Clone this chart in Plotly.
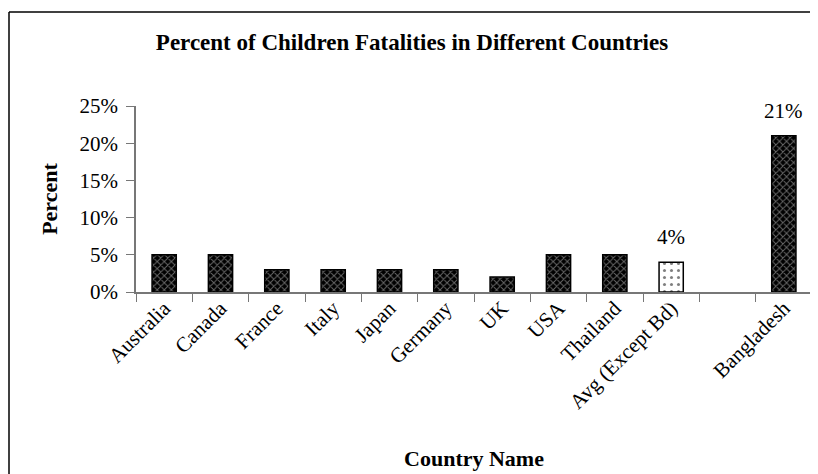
import plotly.graph_objects as go

categories = ["Australia", "Canada", "France", "Italy", "Japan", "Germany", "UK",
              "USA", "Thailand", "Avg (Except Bd)", " ", "Bangladesh"]
values = [5, 5, 3, 3, 3, 3, 2, 5, 5, 4, None, 21]
labels = ["", "", "", "", "", "", "", "", "", "4%", "", "21%"]
ytick_vals = [0, 5, 10, 15, 20, 25]
ytick_text = ["0%", "5%", "10%", "15%", "20%", "25%"]

FONT = "Liberation Serif"
OFF = 8  # page body offset
W, H = 818 - OFF, 474 - OFF

dark_idx = [i for i, c in enumerate(categories) if c != "Avg (Except Bd)"]
avg_idx = [categories.index("Avg (Except Bd)")]

fig = go.Figure()
fig.add_trace(go.Bar(
    x=[categories[i] for i in dark_idx],
    y=[values[i] for i in dark_idx],
    marker=dict(color="black", line=dict(color="black", width=1.5),
                pattern=dict(shape="x", fgcolor="#d0d0d0", bgcolor="black",
                             size=5, solidity=0.35)),
    width=0.43, showlegend=False, hoverinfo="skip",
))
fig.add_trace(go.Bar(
    x=[categories[i] for i in avg_idx],
    y=[values[i] for i in avg_idx],
    marker=dict(color="white", line=dict(color="black", width=1.5),
                pattern=dict(shape=".", fgcolor="black", bgcolor="white",
                             size=7, solidity=0.15)),
    width=0.43, showlegend=False, hoverinfo="skip",
))

for c, v, t in zip(categories, values, labels):
    if t:
        fig.add_annotation(x=c, y=v, text=t, showarrow=False, yanchor="bottom",
                           yshift=11, font=dict(family=FONT, size=21, color="black"))

# plot area in page pixels: x 136..812, y 106..292
L, R, T, B = 136, 812, 106, 292
px = lambda x: (x - L) / (R - L)
py = lambda y: (B - y) / (B - T)
# chart-area border (left and top edges visible; right/bottom cut off)
fig.add_shape(type="line", xref="paper", yref="paper",
              x0=px(9), x1=px(830), y0=py(12), y1=py(12),
              line=dict(color="black", width=1.5), layer="below")
fig.add_shape(type="line", xref="paper", yref="paper",
              x0=px(9), x1=px(9), y0=py(12), y1=py(490),
              line=dict(color="black", width=1.5), layer="below")

fig.update_layout(
    width=W, height=H,
    margin=dict(l=L - OFF, r=W - (R - OFF), t=T - OFF, b=H - (B - OFF)),
    paper_bgcolor="white", plot_bgcolor="white",
    barmode="overlay",
    title=dict(text="<b>Percent of Children Fatalities in Different Countries</b>",
               x=(412 - OFF) / W, xref="container", xanchor="center",
               y=1 - (42 - OFF) / H, yref="container", yanchor="middle",
               font=dict(family=FONT, size=23, color="black")),
    font=dict(family=FONT, color="black"),
)
fig.update_xaxes(
    type="category", categoryorder="array", categoryarray=categories,
    tickson="boundaries", ticks="outside", ticklen=8, tickcolor="#777",
    showline=True, linecolor="#777", linewidth=1.5,
    tickangle=-45, tickfont=dict(family=FONT, size=21, color="black"),
    ticklabelstandoff=-6,
    title=dict(text="<b>Country Name</b>", font=dict(family=FONT, size=22, color="black"), standoff=38),
    showgrid=False, zeroline=False,
)
fig.update_yaxes(
    range=[0, 25], tickvals=ytick_vals, ticktext=ytick_text,
    ticks="outside", ticklen=8, tickcolor="#777",
    showline=True, linecolor="#777", linewidth=1.5,
    tickfont=dict(family=FONT, size=21, color="black"),
    ticklabelstandoff=4,
    title=dict(text="<b>Percent</b>", font=dict(family=FONT, size=22, color="black"), standoff=16),
    showgrid=False, zeroline=False,
)

fig.write_html("out.html")
